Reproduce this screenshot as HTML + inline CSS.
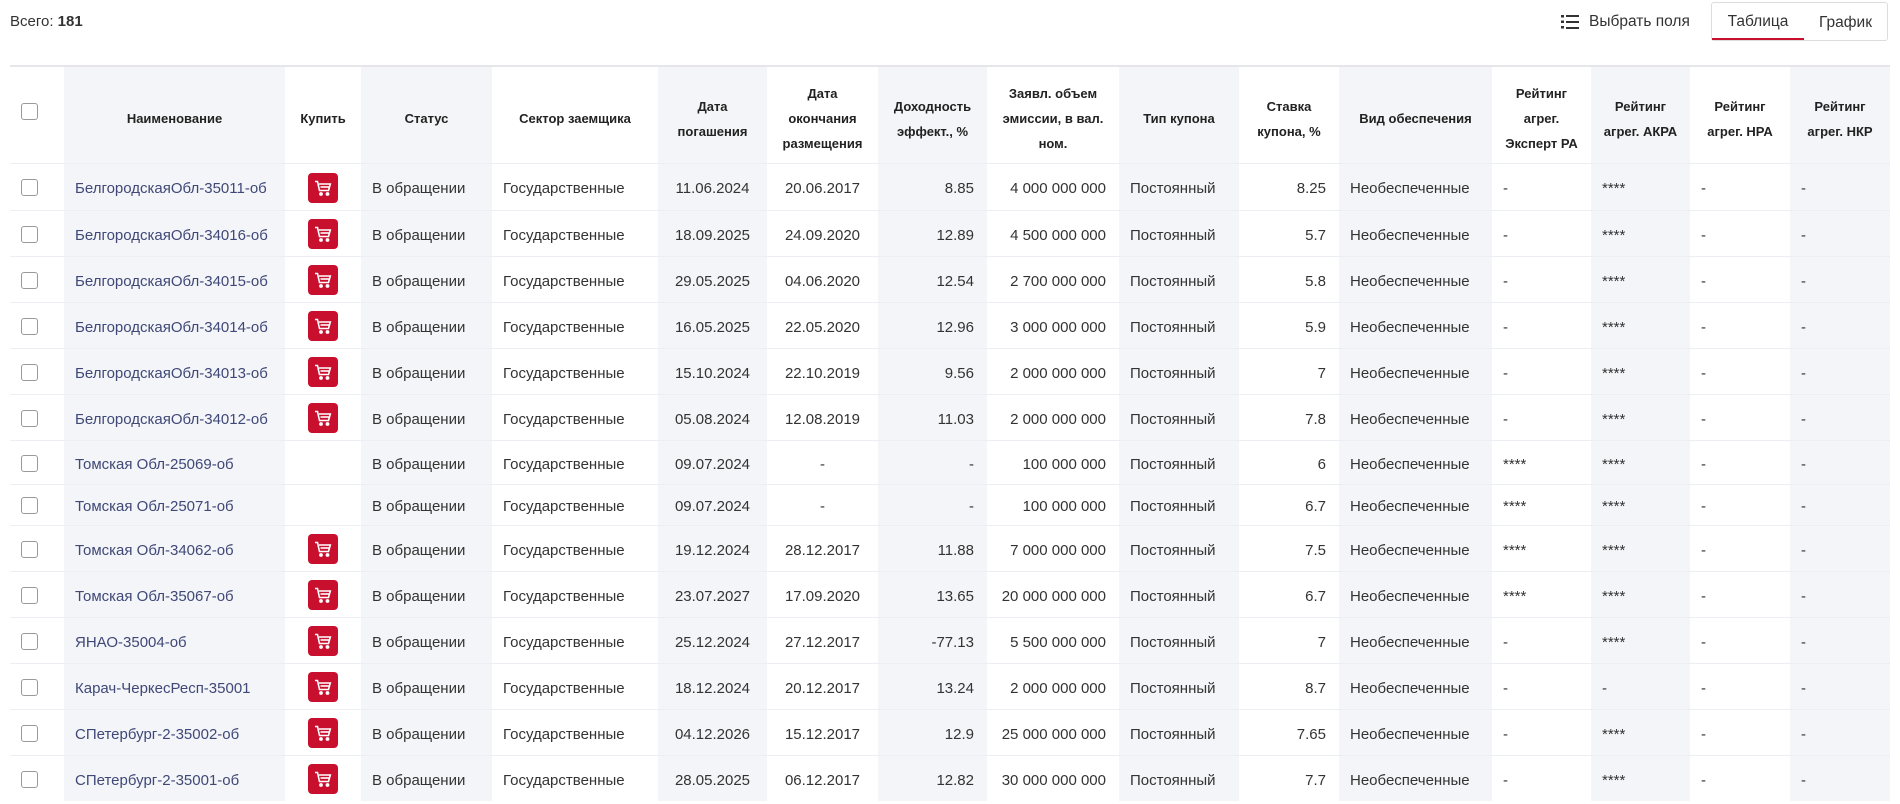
<!DOCTYPE html>
<html><head><meta charset="utf-8"><style>
*{box-sizing:border-box;margin:0;padding:0}
body{width:1900px;height:804px;overflow:hidden;background:#fff;font-family:"Liberation Sans","Noto Sans CJK SC",sans-serif;color:#333;position:relative}
#total{position:absolute;left:10px;top:13px;font-size:15px}
#fields{position:absolute;left:1561px;top:13px;font-size:15.5px;color:#333;display:flex;align-items:center;gap:10px}
#toggle{position:absolute;left:1711px;top:2px;width:177px;height:39px;border:1px solid #ddd;border-radius:3px;display:flex;font-size:15.5px}
#toggle div{display:flex;align-items:center;justify-content:center;padding-top:3px}
#tab-table{width:92px;border-bottom:2px solid #c8102e}
#tab-chart{flex:1}
table{position:absolute;left:10px;top:65px;border-collapse:collapse;table-layout:fixed;width:1880px;font-size:15px;border-top:2px solid #e6e6ea}
th{font-size:13px;font-weight:bold;line-height:25px;text-align:center;height:97px;color:#222;padding:8px 6px 0}
td{border-top:1px solid #eceef3;padding:4px 11px 0;white-space:nowrap}
.g{background:#f4f5f8}
.c{text-align:center}.r{text-align:right;padding-right:13px}
a{color:#3f4877;text-decoration:none}
.cb{width:17px;height:17px;border:1.5px solid #999;border-radius:3px;display:block;margin-left:11px}
th .cb{margin-top:-6px}
td.k{padding:2px 0 0}
.cart{width:30px;height:30px;background:#c8102e;border-radius:4px;margin:0 auto;display:flex;align-items:center;justify-content:center}
</style></head><body>
<div id="total">Всего: <b>181</b></div>
<div id="fields"><svg width="18" height="14" viewBox="0 0 18 14"><g fill="#333"><rect x="0" y="0" width="3" height="2.5"/><rect x="5" y="0" width="13" height="2"/><rect x="0" y="5.5" width="3" height="2.5"/><rect x="5" y="6" width="13" height="2"/><rect x="0" y="11" width="3" height="2.5"/><rect x="5" y="12" width="13" height="2"/></g></svg><span>Выбрать поля</span></div>
<div id="toggle"><div id="tab-table">Таблица</div><div id="tab-chart">График</div></div>
<table>
<colgroup><col style="width:54px"><col style="width:221px"><col style="width:76px"><col style="width:131px"><col style="width:166px"><col style="width:109px"><col style="width:111px"><col style="width:109px"><col style="width:132px"><col style="width:120px"><col style="width:100px"><col style="width:153px"><col style="width:99px"><col style="width:99px"><col style="width:100px"><col style="width:100px"></colgroup>
<thead><tr>
<th style="padding:0"><span class="cb"></span></th>
<th class="g">Наименование</th><th>Купить</th><th class="g">Статус</th><th>Сектор заемщика</th>
<th class="g">Дата<br>погашения</th><th>Дата<br>окончания<br>размещения</th><th class="g">Доходность<br>эффект., %</th>
<th>Заявл. объем<br>эмиссии, в вал.<br>ном.</th><th class="g">Тип купона</th><th>Ставка<br>купона, %</th>
<th class="g">Вид обеспечения</th><th>Рейтинг<br>агрег.<br>Эксперт РА</th><th class="g">Рейтинг<br>агрег. АКРА</th>
<th>Рейтинг<br>агрег. НРА</th><th class="g">Рейтинг<br>агрег. НКР</th></tr></thead>
<tbody id="tb"></tbody></table>
<script>
const names=["БелгородскаяОбл-35011-об","БелгородскаяОбл-34016-об","БелгородскаяОбл-34015-об","БелгородскаяОбл-34014-об","БелгородскаяОбл-34013-об","БелгородскаяОбл-34012-об","Томская Обл-25069-об","Томская Обл-25071-об","Томская Обл-34062-об","Томская Обл-35067-об","ЯНАО-35004-об","Карач-ЧеркесРесп-35001","СПетербург-2-35002-об","СПетербург-2-35001-об"];
const buy=[1,1,1,1,1,1,0,0,1,1,1,1,1,1];
const mat=["11.06.2024","18.09.2025","29.05.2025","16.05.2025","15.10.2024","05.08.2024","09.07.2024","09.07.2024","19.12.2024","23.07.2027","25.12.2024","18.12.2024","04.12.2026","28.05.2025"];
const endp=["20.06.2017","24.09.2020","04.06.2020","22.05.2020","22.10.2019","12.08.2019","-","-","28.12.2017","17.09.2020","27.12.2017","20.12.2017","15.12.2017","06.12.2017"];
const yld=["8.85","12.89","12.54","12.96","9.56","11.03","-","-","11.88","13.65","-77.13","13.24","12.9","12.82"];
const vol=["4 000 000 000","4 500 000 000","2 700 000 000","3 000 000 000","2 000 000 000","2 000 000 000","100 000 000","100 000 000","7 000 000 000","20 000 000 000","5 500 000 000","2 000 000 000","25 000 000 000","30 000 000 000"];
const rate=["8.25","5.7","5.8","5.9","7","7.8","6","6.7","7.5","6.7","7","8.7","7.65","7.7"];
const expert=["-","-","-","-","-","-","****","****","****","****","-","-","-","-"];
const akra=["****","****","****","****","****","****","****","****","****","****","****","-","****","****"];
const heights=[47,46,46,46,46,46,44,41,46,46,46,46,46,46];
const tb=document.getElementById('tb');
const cart='<svg width="18" height="16" viewBox="0 0 18 16" fill="none" stroke="#fff" stroke-width="1.6"><path d="M1 1.5h2.5l2 9h9l1.8-6.5H5"/><path d="M6.5 7h9"/><circle cx="7" cy="14" r="1.1" fill="#fff"/><circle cx="13.5" cy="14" r="1.1" fill="#fff"/></svg>';
names.forEach((n,i)=>{
const tr=document.createElement('tr');


tr.style.height=heights[i]+'px';
tr.innerHTML='<td class="k"><span class="cb"></span></td>'+
'<td class="g"><a href="#">'+n+'</a></td>'+
'<td class="k">'+(buy[i]?'<div class="cart">'+cart+'</div>':'')+'</td>'+
'<td class="g">В обращении</td><td>Государственные</td>'+
'<td class="g c">'+mat[i]+'</td><td class="c">'+endp[i]+'</td>'+
'<td class="g r">'+yld[i]+'</td><td class="r">'+vol[i]+'</td>'+
'<td class="g">Постоянный</td><td class="r">'+rate[i]+'</td>'+
'<td class="g">Необеспеченные</td><td>'+expert[i]+'</td><td class="g">'+akra[i]+'</td><td>-</td><td class="g">-</td>';
tb.appendChild(tr);
});
</script>
</body></html>
